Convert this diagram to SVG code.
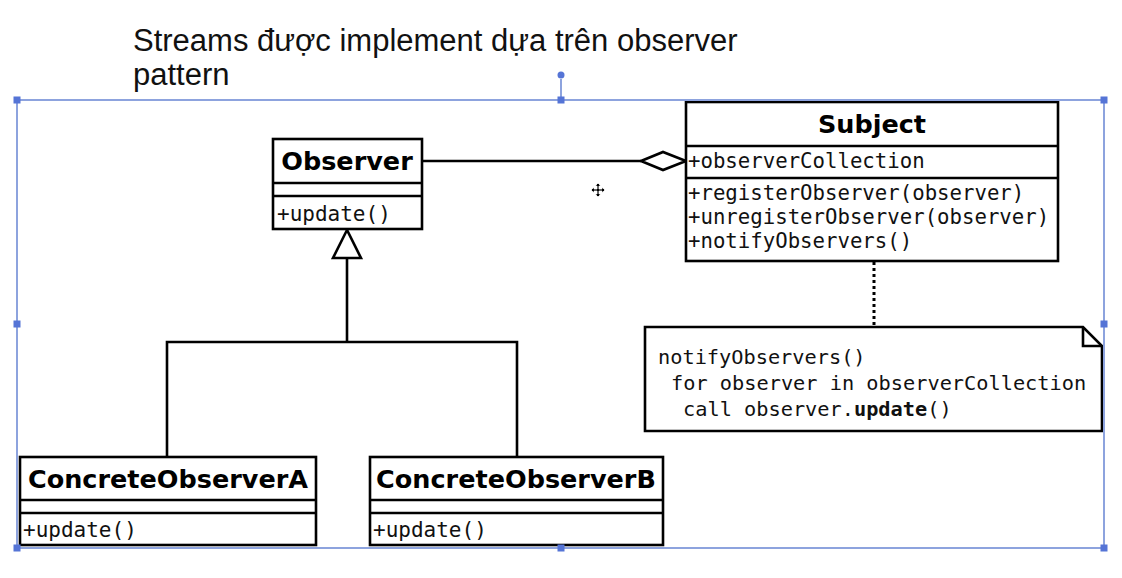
<svg xmlns="http://www.w3.org/2000/svg" width="1122" height="578" viewBox="0 0 1122 578">
<style>
.box{fill:#fff;stroke:#000;stroke-width:2.6}
.ln{fill:none;stroke:#000;stroke-width:2.6}
.hd{font-family:"DejaVu Sans",sans-serif;font-weight:bold;font-size:25.5px;fill:#000;text-anchor:middle}
.mono{font-family:"DejaVu Sans Mono",monospace;font-size:20.3px;fill:#111}
.mono2{font-family:"DejaVu Sans Mono",monospace;font-size:20.7px;fill:#111}
.mono3{font-family:"DejaVu Sans Mono",monospace;font-size:21px;fill:#111}
.title{font-family:"Liberation Sans",Arial,sans-serif;font-size:31px;fill:#111}
.sel{fill:none;stroke:#8da3de;stroke-width:2}
.hdl{fill:#5574d6}
</style>
<rect width="1122" height="578" fill="#fff"/>
<g id="title">
<text class="title" x="133" y="51">Streams được implement dựa trên observer</text>
<text class="title" x="133" y="85">pattern</text>
</g>
<g id="connectors">
<line class="ln" x1="422" y1="161" x2="641" y2="161"/>
<polygon points="641,161 663,152 686,161 663,170" fill="#fff" stroke="#000" stroke-width="2.6"/>
<line class="ln" x1="347" y1="258" x2="347" y2="342"/>
<polygon points="347,230 333,258 361,258" fill="#fff" stroke="#000" stroke-width="2.6"/>
<polyline class="ln" points="167,457 167,342 517,342 517,457"/>
<line x1="874" y1="262" x2="874" y2="326" stroke="#000" stroke-width="3" stroke-dasharray="3,3"/>
</g>
<g id="observer">
<rect class="box" x="273" y="139" width="149" height="90"/>
<line class="ln" x1="273" y1="183" x2="422" y2="183"/>
<line class="ln" x1="273" y1="196" x2="422" y2="196"/>
<text class="hd" x="347" y="170">Observer</text>
<text class="mono3" x="277" y="221">+update()</text>
</g>
<g id="subject">
<rect class="box" x="686" y="102" width="372" height="159"/>
<line class="ln" x1="686" y1="146" x2="1058" y2="146"/>
<line class="ln" x1="686" y1="178" x2="1058" y2="178"/>
<text class="hd" x="872" y="133">Subject</text>
<text class="mono2" x="688" y="168">+observerCollection</text>
<text class="mono2" x="688" y="200">+registerObserver(observer)</text>
<text class="mono2" x="688" y="224">+unregisterObserver(observer)</text>
<text class="mono2" x="688" y="248">+notifyObservers()</text>
</g>
<g id="note">
<path class="box" d="M645,327 L1083,327 L1102,346 L1102,431 L645,431 Z"/>
<polyline class="ln" points="1083,327 1083,346 1102,346"/>
<text class="mono" x="658" y="364">notifyObservers()</text>
<text class="mono" x="671" y="390">for observer in observerCollection</text>
<text class="mono" x="683" y="416">call observer.<tspan font-weight="bold">update</tspan>()</text>
</g>
<g id="concreteA">
<rect class="box" x="20" y="457" width="296" height="88"/>
<line class="ln" x1="20" y1="500" x2="316" y2="500"/>
<line class="ln" x1="20" y1="513" x2="316" y2="513"/>
<text class="hd" x="168" y="488">ConcreteObserverA</text>
<text class="mono3" x="23" y="537">+update()</text>
</g>
<g id="concreteB">
<rect class="box" x="370" y="457" width="293" height="88"/>
<line class="ln" x1="370" y1="500" x2="663" y2="500"/>
<line class="ln" x1="370" y1="513" x2="663" y2="513"/>
<text class="hd" x="516" y="488">ConcreteObserverB</text>
<text class="mono3" x="373" y="537">+update()</text>
</g>
<g id="selection">
<rect class="sel" x="17" y="100" width="1087" height="448"/>
<line class="sel" x1="561" y1="79" x2="561" y2="100"/>
<circle class="hdl" cx="561" cy="75" r="3.5"/>
<rect class="hdl" x="13.5" y="96.5" width="7" height="7"/>
<rect class="hdl" x="557.5" y="96.5" width="7" height="7"/>
<rect class="hdl" x="1100.5" y="96.5" width="7" height="7"/>
<rect class="hdl" x="13.5" y="320.5" width="7" height="7"/>
<rect class="hdl" x="1100.5" y="320.5" width="7" height="7"/>
<rect class="hdl" x="13.5" y="544.5" width="7" height="7"/>
<rect class="hdl" x="557.5" y="544.5" width="7" height="7"/>
<rect class="hdl" x="1100.5" y="544.5" width="7" height="7"/>
</g>
<g id="cursor" transform="translate(598,190)">
<path d="M0,-7 L3,-4 L1,-4 L1,-1 L4,-1 L4,-3 L7,0 L4,3 L4,1 L1,1 L1,4 L3,4 L0,7 L-3,4 L-1,4 L-1,1 L-4,1 L-4,3 L-7,0 L-4,-3 L-4,-1 L-1,-1 L-1,-4 L-3,-4 Z" fill="#000" stroke="#fff" stroke-width="0.8"/>
</g>
</svg>
